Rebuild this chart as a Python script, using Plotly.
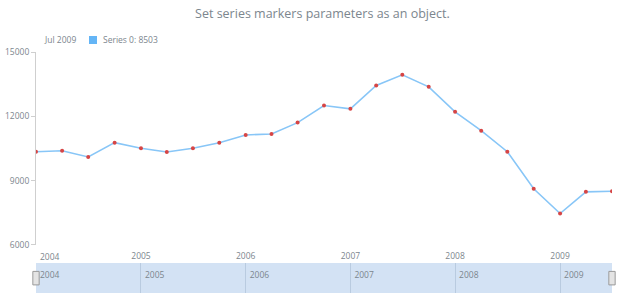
import plotly.graph_objects as go

dates = ["2004-01-01", "2004-04-01", "2004-07-01", "2004-10-01",
         "2005-01-01", "2005-04-01", "2005-07-01", "2005-10-01",
         "2006-01-01", "2006-04-01", "2006-07-01", "2006-10-01",
         "2007-01-01", "2007-04-01", "2007-07-01", "2007-10-01",
         "2008-01-01", "2008-04-01", "2008-07-01", "2008-10-01",
         "2009-01-01", "2009-04-01", "2009-07-01"]
values = [10351, 10397, 10103, 10772,
          10510, 10337, 10510, 10772,
          11132, 11179, 11707, 12502,
          12348, 13438, 13939, 13377,
          12208, 11333, 10351, 8620,
          7469, 8479, 8503]
year_ticks = ["2004-01-01", "2005-01-01", "2006-01-01", "2007-01-01", "2008-01-01", "2009-01-01"]
year_labels = ["2004", "2005", "2006", "2007", "2008", "2009"]
y_ticks = [6000, 9000, 12000, 15000]
y_labels = ["6000", "9000", "12000", "15000"]
title_text = "Set series markers parameters as an object."
legend_date = "Jul 2009"
legend_label = "Series 0: 8503"

GRAY = "#7c868e"
FONT = "Open Sans"
x_range = [dates[0], dates[-1]]

fig = go.Figure()
fig.add_trace(go.Scatter(
    x=dates, y=values, mode="lines+markers",
    line=dict(color="#88c6f7", width=1.6),
    marker=dict(color="#d64545", size=4),
    showlegend=False, hoverinfo="skip",
    xaxis="x", yaxis="y",
))
# invisible trace so the scroller subplot exists
fig.add_trace(go.Scatter(
    x=[dates[0], dates[-1]], y=[None, None], mode="lines",
    showlegend=False, hoverinfo="skip", xaxis="x2", yaxis="y2",
))

fig.update_layout(
    width=620, height=300,
    margin=dict(l=36, r=8, t=52, b=7),
    paper_bgcolor="white", plot_bgcolor="white",
    font=dict(family=FONT, color=GRAY, size=9),
    title=dict(text=title_text, x=0.52, xanchor="center", y=0.953, yanchor="middle",
               font=dict(family=FONT, size=12.5, color=GRAY)),
    xaxis=dict(
        domain=[0, 1], range=x_range, anchor="y", automargin=False,
        showgrid=False, zeroline=False, showline=False,
        tickvals=year_ticks[1:], ticktext=year_labels[1:],
        ticks="", tickfont=dict(size=8.5, color=GRAY),
        ticklabelstandoff=5,
    ),
    yaxis=dict(
        domain=[0.1992, 1], range=[y_ticks[0], y_ticks[-1]], anchor="x", automargin=False,
        showgrid=False, zeroline=False,
        showline=True, linecolor="#cfcfcf", linewidth=1,
        tickvals=y_ticks, ticktext=y_labels, ticks="outside", ticklen=4, tickcolor="#cfcfcf",
        tickfont=dict(size=8.5, color=GRAY),
    ),
    xaxis2=dict(
        domain=[0, 1], range=x_range, anchor="y2", side="top", automargin=False,
        showgrid=True, gridcolor="#b9cbe0", gridwidth=1,
        zeroline=False, showline=False,
        tickvals=year_ticks, ticktext=year_labels,
        ticks="", ticklabelposition="inside right",
        ticklabelstandoff=3, ticklabelshift=4,
        tickfont=dict(size=8.5, color=GRAY),
    ),
    yaxis2=dict(
        domain=[0, 0.1245], range=[0, 1], anchor="x2", automargin=False,
        showgrid=False, zeroline=False, showline=False, showticklabels=False,
    ),
)

# first x-axis label (shifted inside the plot as in the original)
fig.add_annotation(x=year_ticks[0], y=0, xref="x", yref="y domain", yshift=-4,
                   text=year_labels[0], showarrow=False, xanchor="left", yanchor="top",
                   font=dict(size=8.5, color=GRAY, family=FONT), xshift=2)

# scroller background
fig.add_shape(type="rect", xref="x2 domain", yref="y2 domain", x0=0, x1=1, y0=0, y1=1,
              fillcolor="#d3e2f4", line=dict(width=0), layer="below")
# scroller handles
for xd in (0, 1):
    fig.add_shape(type="rect", xref="x2 domain", yref="y2 domain",
                  x0=xd - 0.0055, x1=xd + 0.0055, y0=0.27, y1=0.72,
                  fillcolor="#e4e4e4", line=dict(color="#9a9a9a", width=1), layer="above")

# legend-like header (pixel positions converted to paper coordinates)
pw, ph = 620 - 36 - 8, 300 - 52 - 7
fig.add_annotation(x=(42 - 36) / pw, y=(293 - 40) / ph, xref="paper", yref="paper",
                   text=legend_date, showarrow=False,
                   font=dict(size=8.5, color=GRAY, family=FONT), xanchor="left", yanchor="middle")
fig.add_annotation(x=(101 - 36) / pw, y=(293 - 40) / ph, xref="paper", yref="paper",
                   text=legend_label, showarrow=False,
                   font=dict(size=8.5, color=GRAY, family=FONT), xanchor="left", yanchor="middle")
fig.add_shape(type="rect", xref="paper", yref="paper",
              x0=(89 - 36) / pw, x1=(97 - 36) / pw,
              y0=(293 - 44) / ph, y1=(293 - 36) / ph,
              fillcolor="#64b5f6", line=dict(width=0))

fig.write_html("out.html")
